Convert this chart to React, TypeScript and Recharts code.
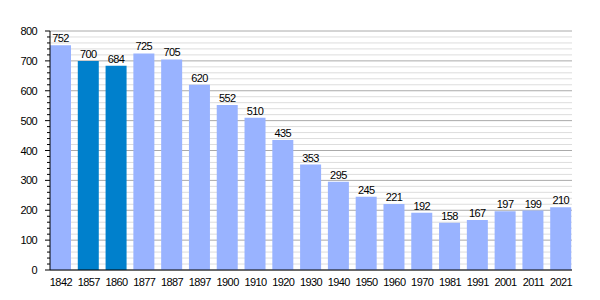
import React from "react";
import { BarChart, Bar, XAxis, YAxis, CartesianGrid, Cell, LabelList } from "recharts";

const years = ["1842","1857","1860","1877","1887","1897","1900","1910","1920","1930","1940","1950","1960","1970","1981","1991","2001","2011","2021"];
const population = [752,700,684,725,705,620,552,510,435,353,295,245,221,192,158,167,197,199,210];
const highlighted = ["1857","1860"];
const yTicks = [0,20,40,60,80,100,120,140,160,180,200,220,240,260,280,300,320,340,360,380,400,420,440,460,480,500,520,540,560,580,600,620,640,660,680,700,720,740,760,780,800];

const data = years.map((y, i) => ({ year: y, value: population[i] }));

const FONT = "'Liberation Sans', Arial, sans-serif";
const textStyle = { fontSize: 11, fontFamily: FONT, fill: "#000", letterSpacing: -0.6 };

const YTick = (props: any) => {
  const { x, y, payload } = props;
  const v = payload.value as number;
  const major = v % 100 === 0;
  return (
    <g>
      <line x1={x - (major ? 5 : 3)} x2={x} y1={y} y2={y} stroke="#000" strokeWidth={1} />
      {major && (
        <text x={x - 13} y={y} textAnchor="end" dominantBaseline="central" style={textStyle}>
          {v}
        </text>
      )}
    </g>
  );
};

const GridLine = (props: any) => {
  const { x1, x2, y1, y2, index } = props;
  const major = yTicks[index] % 100 === 0;
  return <line x1={x1} x2={x2} y1={y1} y2={y2} stroke={major ? "#aaaaaa" : "#dddddd"} strokeWidth={1} />;
};

export default function App() {
  return (
    <div style={{ position: "absolute", left: 0, top: 0 }}>
      <BarChart width={600} height={300} data={data} margin={{ top: 31, right: 28, bottom: 0, left: 0 }} barSize={21}>
        <CartesianGrid vertical={false} horizontal={GridLine as any} />
        <XAxis
          dataKey="year"
          axisLine={{ stroke: "#000" }}
          tickLine={false}
          height={30}
          padding={{ left: -3, right: -3 }}
          tick={textStyle}
          tickMargin={2}
          interval={0}
        />
        <YAxis
          width={50}
          domain={[0, 800]}
          ticks={yTicks}
          interval={0}
          tickLine={false}
          tickSize={0}
          tickMargin={0}
          axisLine={{ stroke: "#000" }}
          tick={<YTick />}
        />
        <Bar dataKey="value" isAnimationActive={false}>
          {data.map((d) => (
            <Cell key={d.year} fill={highlighted.includes(d.year) ? "#0080cc" : "#99b3ff"} />
          ))}
          <LabelList dataKey="value" position="top" offset={3} style={textStyle} />
        </Bar>
      </BarChart>
    </div>
  );
}
